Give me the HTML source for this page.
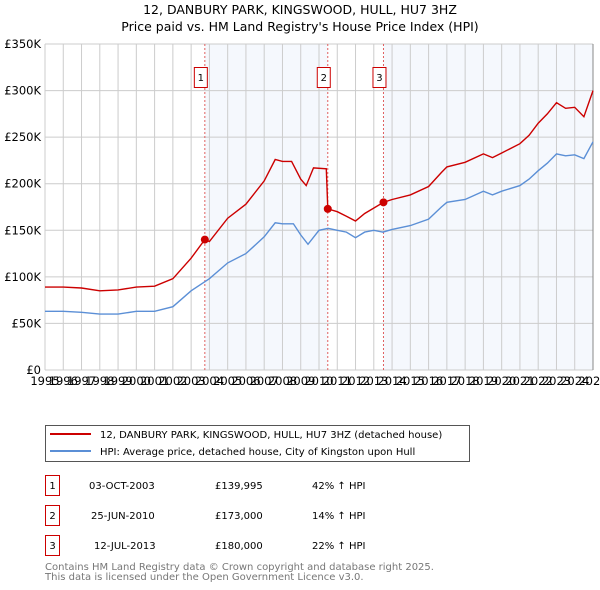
<!DOCTYPE html>
<html><head><meta charset="utf-8"><style>
body{margin:0;background:#fff}
svg{display:block;font-family:"DejaVu Sans","Liberation Sans",sans-serif}
</style></head><body>
<svg id="chart" width="600" height="590" viewBox="0 0 600 590" xmlns="http://www.w3.org/2000/svg">
<text x="300" y="14" text-anchor="middle" font-size="12.5">12, DANBURY PARK, KINGSWOOD, HULL, HU7 3HZ</text>
<text x="300" y="31" text-anchor="middle" font-size="12.5">Price paid vs. HM Land Registry's House Price Index (HPI)</text>
<g id="plot"></g>
<g>
<rect x="45.5" y="425.5" width="424" height="36" fill="#fff" stroke="#555"/>
<line x1="50" y1="434" x2="91" y2="434" stroke="#cc0000" stroke-width="2"/>
<text x="100" y="438" font-size="10">12, DANBURY PARK, KINGSWOOD, HULL, HU7 3HZ (detached house)</text>
<line x1="50" y1="451" x2="91" y2="451" stroke="#5b8fd6" stroke-width="2"/>
<text x="100" y="455" font-size="10">HPI: Average price, detached house, City of Kingston upon Hull</text>
</g>
<g font-size="10">
<rect x="45.5" y="475.5" width="14" height="20" fill="none" stroke="#cc0000"/><text x="52.5" y="489" text-anchor="middle">1</text>
<text x="89" y="489">03-OCT-2003</text><text x="215" y="489">£139,995</text><text x="312" y="489">42% ↑ HPI</text>
<rect x="45.5" y="505.5" width="14" height="20" fill="none" stroke="#cc0000"/><text x="52.5" y="519" text-anchor="middle">2</text>
<text x="91" y="519">25-JUN-2010</text><text x="215" y="519">£173,000</text><text x="312" y="519">14% ↑ HPI</text>
<rect x="45.5" y="535.5" width="14" height="20" fill="none" stroke="#cc0000"/><text x="52.5" y="549" text-anchor="middle">3</text>
<text x="94" y="549">12-JUL-2013</text><text x="215" y="549">£180,000</text><text x="312" y="549">22% ↑ HPI</text>
</g>
<text x="45" y="570" font-size="10" fill="#777">Contains HM Land Registry data © Crown copyright and database right 2025.</text>
<text x="45" y="580" font-size="10" fill="#777">This data is licensed under the Open Government Licence v3.0.</text>
</svg>
<script>
const yearTicks=[1995,1996,1997,1998,1999,2000,2001,2002,2003,2004,2005,2006,2007,2008,2009,2010,2011,2012,2013,2014,2015,2016,2017,2018,2019,2020,2021,2022,2023,2024,2025];
const priceTicks=[0,50,100,150,200,250,300,350];
const priceTickLabels=["£0","£50K","£100K","£150K","£200K","£250K","£300K","£350K"];
const redYears=[1995,1996,1997,1998,1999,2000,2001,2002,2003,2003.75,2004,2005,2006,2007,2007.6,2008,2008.5,2009,2009.3,2009.7,2010.4,2010.48,2011,2011.5,2012,2012.5,2013.53,2014,2015,2016,2016.7,2017,2018,2019,2019.5,2020,2021,2021.5,2022,2022.5,2023,2023.5,2024,2024.5,2025];
const redValues=[89,89,88,85,86,89,90,98,120,140,138,163,178,203,226,224,224,205,198,217,216,173,170,165,160,168,180,183,188,197,212,218,223,232,228,233,243,252,265,275,287,281,282,272,300];
const hpiYears=[1995,1996,1997,1998,1999,2000,2001,2002,2003,2004,2005,2006,2007,2007.6,2008,2008.6,2009,2009.4,2010,2010.5,2011,2011.5,2012,2012.5,2013,2013.5,2014,2015,2016,2016.7,2017,2018,2019,2019.5,2020,2021,2021.5,2022,2022.5,2023,2023.5,2024,2024.5,2025];
const hpiValues=[63,63,62,60,60,63,63,68,85,98,115,125,143,158,157,157,145,135,150,152,150,148,142,148,150,148,151,155,162,175,180,183,192,188,192,198,205,214,222,232,230,231,227,245];
const saleYears=[2003.75,2010.48,2013.53];
const saleValues=[139.995,173,180];
const saleLabels=["1","2","3"];

const X0=45,X1=593,Y0=370,Y1=44;
const xs=y=>X0+(y-1995)/30*(X1-X0);
const ys=v=>Y0-v/350*(Y0-Y1);
const NS="http://www.w3.org/2000/svg";
const g=document.getElementById('plot');
function mk(t,a){const e=document.createElementNS(NS,t);for(const k in a)e.setAttribute(k,a[k]);g.appendChild(e);return e;}

let e;
e=mk('rect',{x:xs(saleYears[0]),y:Y1,width:xs(saleYears[1])-xs(saleYears[0]),height:Y0-Y1,fill:'#eef3fc',opacity:0.6});


e=mk('rect',{x:xs(saleYears[2]),y:Y1,width:X1-xs(saleYears[2]),height:Y0-Y1,fill:'#eef3fc',opacity:0.6});



yearTicks.forEach(yr=>{
  e=mk('line',{x1:xs(yr),x2:xs(yr),y1:Y1,y2:Y0,stroke:'#ccc','stroke-width':1});
  
  
  e=mk('text',{x:xs(yr),y:Y0+15,'font-size':11.5,'text-anchor':'middle'});
  e.textContent=yr;
  
  
});
priceTicks.forEach((v,i)=>{
  e=mk('line',{x1:X0,x2:X1,y1:ys(v),y2:ys(v),stroke:'#ccc','stroke-width':1});
  
  
  e=mk('text',{x:X0-4,y:ys(v)+4,'font-size':11.5,'text-anchor':'end'});
  e.textContent=priceTickLabels[i];
  
  
});
e=mk('line',{x1:X1,x2:X1,y1:Y1,y2:Y0,stroke:'#888'});



saleYears.forEach((yr,i)=>{
  e=mk('line',{x1:xs(yr),x2:xs(yr),y1:Y1,y2:Y0,stroke:'#e06060','stroke-width':1,'stroke-dasharray':'2,2'});
  
  
  e=mk('rect',{x:xs(yr)-10.5,y:67.5,width:13,height:20,fill:'#fff',stroke:'#cc0000'});
  
  
  e=mk('text',{x:xs(yr)-4,y:81,'font-size':10,'text-anchor':'middle'});
  e.textContent=saleLabels[i];
  
  
});

e=mk('path',{d:hpiYears.map((y,i)=>(i?'L':'M')+xs(y).toFixed(1)+','+ys(hpiValues[i]).toFixed(1)).join(''),fill:'none',stroke:'#5b8fd6','stroke-width':1.4});


e=mk('path',{d:redYears.map((y,i)=>(i?'L':'M')+xs(y).toFixed(1)+','+ys(redValues[i]).toFixed(1)).join(''),fill:'none',stroke:'#cc0000','stroke-width':1.4});


saleYears.forEach((yr,i)=>{
  e=mk('circle',{cx:xs(yr),cy:ys(saleValues[i]),r:4,fill:'#cc0000'});
  
  
});
</script>
</body></html>
